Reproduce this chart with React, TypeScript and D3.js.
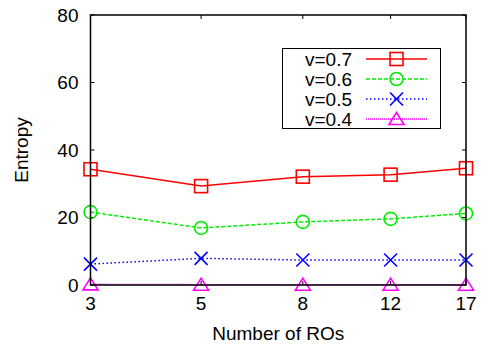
import React from "react";
import * as d3 from "d3";

const nodes = [3, 5, 8, 12, 17];
const yTicks = [0, 20, 40, 60, 80];
const seriesNames = ["v=0.7", "v=0.6", "v=0.5", "v=0.4"];
const v07 = [34.3, 29.3, 32.1, 32.7, 34.6];
const v06 = [21.6, 16.9, 18.7, 19.6, 21.2];
const v05 = [6.2, 7.9, 7.4, 7.4, 7.4];
const v04 = [0.2, 0.1, 0.1, 0.1, 0.1];

const W = 488;
const H = 352;
const margin = { left: 90.5, right: 22, top: 15, bottom: 67 };
const FONT = "'Liberation Sans', Arial, sans-serif";

const styles = [
  { color: "#ff0000", dash: "none", marker: "square" },
  { color: "#00ee00", dash: "4,2", marker: "circle" },
  { color: "#0000ff", dash: "1.5,2.5", marker: "cross" },
  { color: "#ff00ff", dash: "1,1", marker: "triangle" },
];

function Marker({ type, x, y, color }: { type: string; x: number; y: number; color: string }) {
  const s = 6.5;
  const common = { fill: "none", stroke: color, strokeWidth: 1.6 };
  if (type === "square") return <rect x={x - s} y={y - s} width={2 * s} height={2 * s} {...common} />;
  if (type === "circle") return <circle cx={x} cy={y} r={s} {...common} />;
  if (type === "cross")
    return <path d={`M${x - s},${y - s}L${x + s},${y + s}M${x - s},${y + s}L${x + s},${y - s}`} {...common} />;
  return <path d={`M${x},${y - s}L${x + s + 1},${y + s * 0.85}L${x - s - 1},${y + s * 0.85}Z`} {...common} />;
}

export default function App() {
  const x = d3.scaleLog().domain([3, 17]).range([margin.left, W - margin.right]);
  const y = d3.scaleLinear().domain([0, 80]).range([H - margin.bottom, margin.top]);
  const all = [v07, v06, v05, v04];
  const line = d3
    .line<number>()
    .x((_, i) => x(nodes[i]))
    .y((d) => y(d));
  const x0 = x(3), x1 = x(17), y0 = y(0), y1 = y(80);
  const tl = 4;

  const legX = 282.5, legY = 48.5, legW = 158, legH = 80;

  return (
    <svg width={W} height={H} style={{ position: "absolute", left: 0, top: 0, background: "#fff" }}>
      {/* ticks */}
      {yTicks.map((t) => (
        <g key={"y" + t}>
          <line x1={x0} x2={x0 + tl} y1={y(t)} y2={y(t)} stroke="#000" />
          <line x1={x1} x2={x1 - tl} y1={y(t)} y2={y(t)} stroke="#000" />
          <text x={x0 - 12} y={y(t)} dy="0.36em" textAnchor="end" fontFamily={FONT} fontSize={19}>
            {t}
          </text>
        </g>
      ))}
      {nodes.map((n) => (
        <g key={"x" + n}>
          <line x1={x(n)} x2={x(n)} y1={y0} y2={y0 - tl} stroke="#000" />
          <line x1={x(n)} x2={x(n)} y1={y1} y2={y1 + tl} stroke="#000" />
          <text x={x(n)} y={y0 + 25} textAnchor="middle" fontFamily={FONT} fontSize={19}>
            {n}
          </text>
        </g>
      ))}
      {/* series */}
      {all.map((vals, k) => (
        <g key={"s" + k}>
          <path d={line(vals) || ""} fill="none" stroke={styles[k].color} strokeWidth={1.5} strokeDasharray={styles[k].dash} />
          {vals.map((v, i) => (
            <Marker key={i} type={styles[k].marker} x={x(nodes[i])} y={y(v)} color={styles[k].color} />
          ))}
        </g>
      ))}
      <rect x={x0} y={y1} width={x1 - x0} height={y0 - y1} fill="none" stroke="#000" strokeWidth={1.5} />
      {/* legend */}
      <rect x={legX} y={legY} width={legW} height={legH} fill="#fff" stroke="#000" strokeWidth={1} />
      {seriesNames.map((name, k) => {
        const ry = 59 + k * 20;
        return (
          <g key={"l" + k}>
            <text x={352} y={ry} dy="0.36em" textAnchor="end" fontFamily={FONT} fontSize={19}>
              {name}
            </text>
            <line x1={366} x2={427} y1={ry} y2={ry} stroke={styles[k].color} strokeWidth={1.5} strokeDasharray={styles[k].dash} />
            <Marker type={styles[k].marker} x={396.5} y={ry} color={styles[k].color} />
          </g>
        );
      })}
      <text x={(x0 + x1) / 2} y={340} textAnchor="middle" fontFamily={FONT} fontSize={19}>
        Number of ROs
      </text>
      <text
        transform={`translate(28,${(y0 + y1) / 2}) rotate(-90)`}
        textAnchor="middle"
        fontFamily={FONT}
        fontSize={19}
      >
        Entropy
      </text>
    </svg>
  );
}
